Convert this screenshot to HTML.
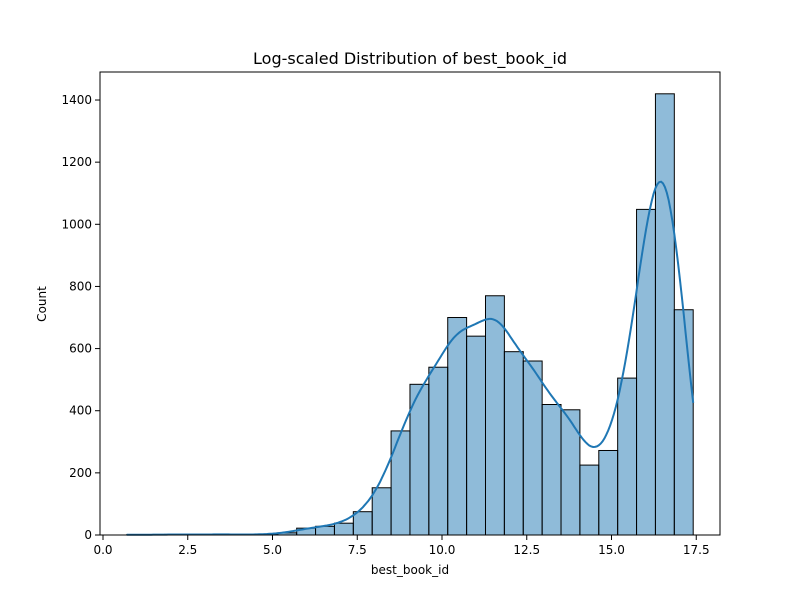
<!DOCTYPE html>
<html><head><meta charset="utf-8"><style>
body{margin:0;background:#fff}
svg text{font-family:"DejaVu Sans","Liberation Sans",sans-serif;fill:#000}
</style></head><body>
<svg id="chart" width="800" height="600" xmlns="http://www.w3.org/2000/svg">
<rect width="800" height="600" fill="#fff"/>
<text x="410" y="64" font-size="16" text-anchor="middle">Log-scaled Distribution of best_book_id</text>
<g id="bars"></g>
<path id="kde" fill="none" stroke="#1f77b4" stroke-width="2"/>
<rect x="100" y="72" width="620" height="463" fill="none" stroke="#000" stroke-width="1"/>
<g id="xticks"></g><g id="yticks"></g>
<text x="410" y="574" font-size="12" text-anchor="middle">best_book_id</text>
<text transform="translate(46,304) rotate(-90)" font-size="12" text-anchor="middle">Count</text>
</svg>
<script>
const binStart = 0.70;
const binWidth = 0.557;
const counts = [1,1,2,1,2,2,1,2,7,22,28,38,75,152,335,485,540,700,640,770,590,560,420,403,225,272,505,1048,1420,725];
const xTickValues = [0,2.5,5,7.5,10,12.5,15,17.5];
const xTickLabels = ["0.0","2.5","5.0","7.5","10.0","12.5","15.0","17.5"];
const yTickValues = [0,200,400,600,800,1000,1200,1400];
const ns="http://www.w3.org/2000/svg";
const X=v=>103+v*33.9, Y=v=>535-v*0.3107;
const bars=document.getElementById('bars');
counts.forEach((c,i)=>{const r=document.createElementNS(ns,'rect');


const x0=X(binStart+i*binWidth),x1=X(binStart+(i+1)*binWidth);
r.setAttribute('x',x0);r.setAttribute('width',x1-x0);r.setAttribute('y',Y(c));r.setAttribute('height',Y(0)-Y(c));
r.setAttribute('fill','rgba(31,119,180,0.5)');r.setAttribute('stroke','#000');r.setAttribute('stroke-width','1');bars.appendChild(r);});
const bw=0.45;let d='';
const lo=binStart,hi=binStart+counts.length*binWidth;
for(let k=0;k<=300;k++){const x=lo+(hi-lo)*k/300;let s=0;
counts.forEach((c,i)=>{const m=binStart+(i+0.5)*binWidth;s+=c*Math.exp(-0.5*((x-m)/bw)**2);});
const dens=s/(bw*Math.sqrt(2*Math.PI))*binWidth;d+=(k?'L':'M')+X(x).toFixed(1)+','+Y(dens).toFixed(1);}
document.getElementById('kde').setAttribute('d',d);
const xt=document.getElementById('xticks');
xTickValues.forEach((v,i)=>{const l=document.createElementNS(ns,'line');


l.setAttribute('x1',X(v));l.setAttribute('x2',X(v));l.setAttribute('y1',535);l.setAttribute('y2',540);l.setAttribute('stroke','#000');xt.appendChild(l);
const t=document.createElementNS(ns,'text');


t.setAttribute('x',X(v));t.setAttribute('y',554);t.setAttribute('font-size','12');t.setAttribute('text-anchor','middle');t.textContent=xTickLabels[i];xt.appendChild(t);});
const yt=document.getElementById('yticks');
yTickValues.forEach(v=>{const l=document.createElementNS(ns,'line');


l.setAttribute('x1',95);l.setAttribute('x2',100);l.setAttribute('y1',Y(v));l.setAttribute('y2',Y(v));l.setAttribute('stroke','#000');yt.appendChild(l);
const t=document.createElementNS(ns,'text');


t.setAttribute('x',92);t.setAttribute('y',Y(v)+4);t.setAttribute('font-size','12');t.setAttribute('text-anchor','end');t.textContent=v;yt.appendChild(t);});
</script>
</body></html>
